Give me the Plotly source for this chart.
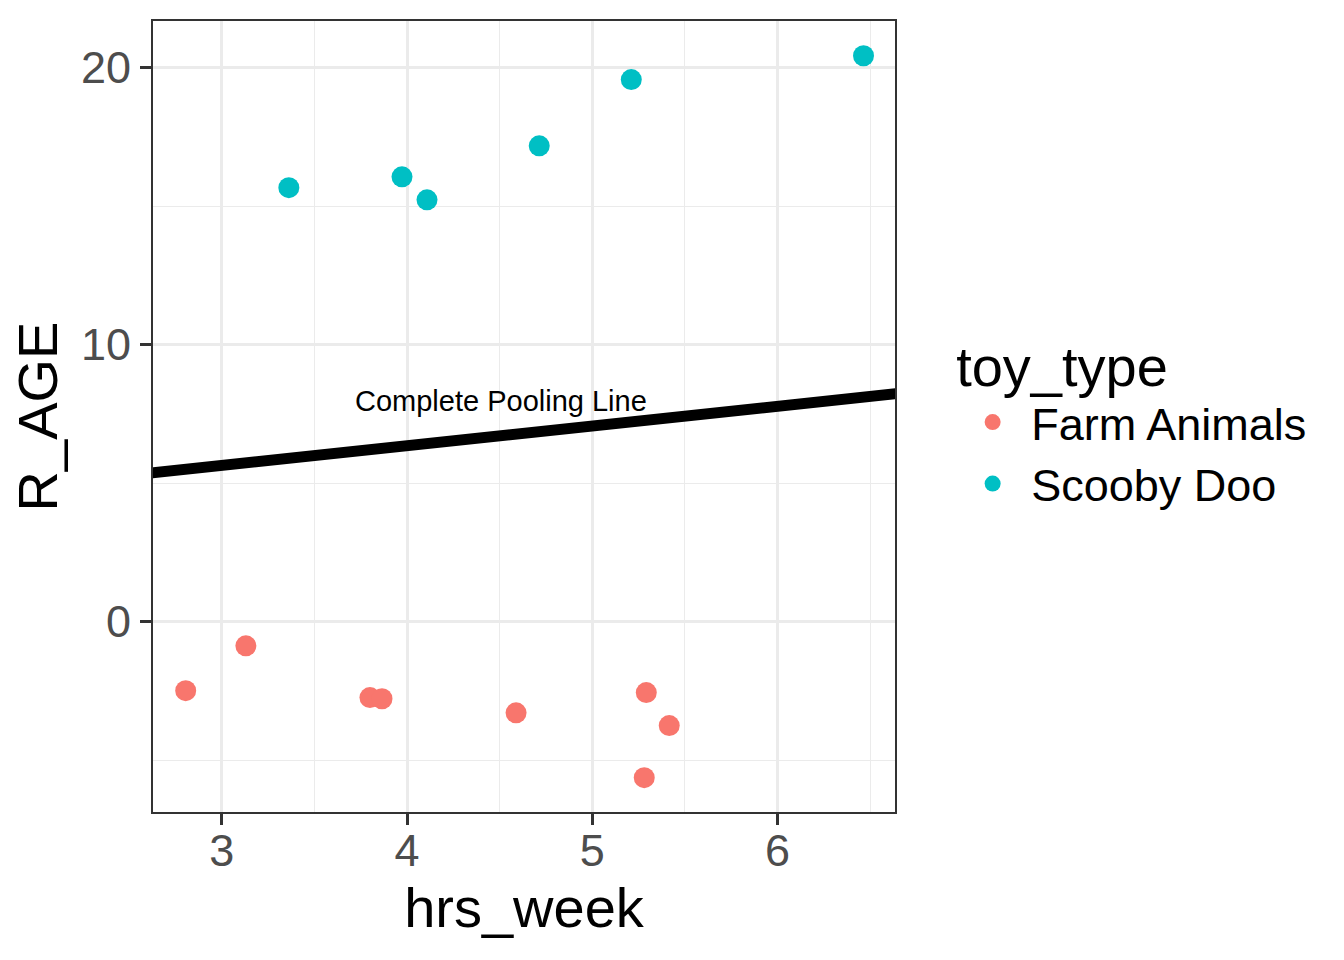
import plotly.graph_objects as go

# Data
farm_x = [2.805, 3.130, 3.800, 3.865, 4.589, 5.292, 5.416, 5.281]
farm_y = [-2.49, -0.87, -2.74, -2.78, -3.29, -2.56, -3.75, -5.63]
scooby_x = [3.362, 3.973, 4.108, 4.714, 5.211, 6.465]
scooby_y = [15.67, 16.06, 15.23, 17.18, 19.57, 20.43]
pool_intercept = 3.51
pool_slope = 0.711
x_range = [2.6285, 6.635]
y_range = [-6.87, 21.686]
x_ticks = [3, 4, 5, 6]
y_ticks = [0, 10, 20]

FONT = "Liberation Sans, Arial, Helvetica, sans-serif"

fig = go.Figure()
line_x = [x_range[0] - 0.5, x_range[1] + 0.5]
line_y = [pool_intercept + pool_slope * v for v in line_x]
fig.add_trace(go.Scatter(x=line_x, y=line_y, mode="lines",
                         line=dict(color="black", width=11),
                         showlegend=False, hoverinfo="skip"))
fig.add_trace(go.Scatter(x=farm_x, y=farm_y, mode="markers", name="Farm Animals",
                         marker=dict(color="#F8766D", size=21, line=dict(width=0))))
fig.add_trace(go.Scatter(x=scooby_x, y=scooby_y, mode="markers", name="Scooby Doo",
                         marker=dict(color="#00BFC4", size=21, line=dict(width=0))))

fig.add_annotation(x=4.508, y=7.98, xref="x", yref="y", text="Complete Pooling Line",
                   showarrow=False, font=dict(family=FONT, size=29, color="black"))

axis_common = dict(
    showline=True, linecolor="#333333", linewidth=2, mirror=True,
    ticks="outside", ticklen=11, tickwidth=2.5, tickcolor="#333333",
    tickfont=dict(family=FONT, size=45, color="#4D4D4D"),
    showgrid=True, gridcolor="#EBEBEB", gridwidth=2.5,
    zeroline=False,
)

fig.update_xaxes(range=x_range, tickvals=x_ticks, **axis_common,
                 ticklabelstandoff=-13,
                 minor=dict(tickvals=[2.5, 3.5, 4.5, 5.5, 6.5], showgrid=True,
                            gridcolor="#EBEBEB", gridwidth=1.3, ticks=""),
                 title=dict(text="hrs_week", font=dict(family=FONT, size=56, color="black"),
                            standoff=8))
fig.update_yaxes(range=y_range, tickvals=y_ticks, **axis_common,
                 minor=dict(tickvals=[-5, 5, 15], showgrid=True,
                            gridcolor="#EBEBEB", gridwidth=1.3, ticks=""),
                 title=dict(text="R_AGE", font=dict(family=FONT, size=56, color="black"),
                            standoff=5))

fig.update_layout(
    width=1344, height=960,
    margin=dict(l=153, r=449, t=21, b=148),
    plot_bgcolor="white", paper_bgcolor="white",
    font=dict(family=FONT),
    legend=dict(
        title=dict(text="toy_type", font=dict(family=FONT, size=56, color="black")),
        font=dict(family=FONT, size=45, color="black"),
        x=1.0797, xanchor="left", y=0.5, yanchor="middle",
        itemwidth=67,
        bgcolor="rgba(0,0,0,0)",
    ),
)

fig.write_html("out.html")
